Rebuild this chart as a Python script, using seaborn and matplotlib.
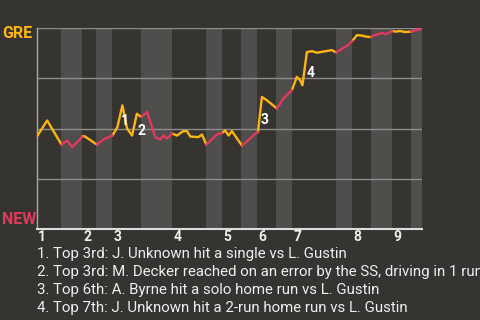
import matplotlib
matplotlib.use("Agg")
import matplotlib.pyplot as plt
import matplotlib.transforms as mtransforms
import seaborn as sns
import pandas as pd
import numpy as np

# ---- data ----
# game progress (x) and win probability for GRE (p)
prog = [0, 10.7, 25, 30.7, 35.7, 40.5, 45.7, 48, 60.5, 67, 76, 81, 86, 90.7, 95.7,
        100.5, 105, 110.7, 119, 124, 127, 130.7, 135.7, 140.7, 147, 150.7, 154, 162,
        165.7, 170, 180.7, 185.7, 189, 192.3, 195.7, 205.7, 219, 221.7, 225.7, 230.7,
        240.7, 247.3, 255.7, 260.7, 264, 266.3, 270.7, 276, 280.7, 295.7, 300, 307,
        312, 316, 321, 326, 330, 335, 338, 345.7, 350, 352.3, 356, 360, 364, 369,
        375, 380.7, 386]
win_prob = [0.457, 0.54, 0.42, 0.44, 0.407, 0.43, 0.46, 0.462, 0.42, 0.445, 0.465,
            0.507, 0.615, 0.5, 0.465, 0.573, 0.557, 0.582, 0.457, 0.445, 0.465, 0.45,
            0.475, 0.465, 0.487, 0.487, 0.46, 0.457, 0.47, 0.42, 0.47, 0.477, 0.49,
            0.465, 0.487, 0.415, 0.473, 0.482, 0.657, 0.64, 0.6, 0.65, 0.69, 0.757,
            0.74, 0.715, 0.88, 0.885, 0.877, 0.89, 0.878, 0.9, 0.915, 0.935, 0.965,
            0.962, 0.957, 0.955, 0.963, 0.975, 0.97, 0.975, 0.985, 0.982, 0.985,
            0.98, 0.982, 0.99, 0.995]
# start of each half inning (top 1, bottom 1, top 2, ...) and game end
half_starts = [0, 25, 46, 60, 76, 105, 136, 170, 186, 205, 221, 240, 256, 300,
               316, 335, 356, 375]
game_end = 386
inning_labels = ["1", "2", "3", "4", "5", "6", "7", "8", "9"]
event_labels = ["1", "2", "3", "4"]
event_x = [88.5, 105, 228, 274]
event_p = [0.535, 0.49, 0.54, 0.775]
notes = [
    "1. Top 3rd: J. Unknown hit a single vs L. Gustin",
    "2. Top 3rd: M. Decker reached on an error by the SS, driving in 1 run",
    "3. Top 6th: A. Byrne hit a solo home run vs L. Gustin",
    "4. Top 7th: J. Unknown hit a 2-run home run vs L. Gustin",
]
away_team, home_team = "GRE", "NEW"

# ---- style ----
BG = "#363430"
BAND = "#4f4e4c"
ORANGE = "#FDB515"
RED = "#E23A5E"
TXT = "#eeeeee"

sns.set_style("dark")
plt.rcParams["font.family"] = ["Roboto", "DejaVu Sans"]

fig = plt.figure(figsize=(4.8, 3.2), dpi=100, facecolor=BG)
ax = fig.add_axes([36.5 / 480, 1 - 229 / 320, (422 - 36.5) / 480, (229 - 28) / 320])
ax.set_facecolor(BG)

# half-inning bands (bottom halves shaded)
bounds = half_starts + [game_end]
for i in range(len(half_starts)):
    if i % 2 == 1:
        ax.axvspan(bounds[i], bounds[i + 1], color=BAND, lw=0, zorder=0)

for g in [0.25, 0.5, 0.75, 1.0]:
    ax.axhline(g, color="#8e8d8b", lw=1, zorder=1)

# build colored segments: orange when GRE batting (top), red when NEW batting (bottom)
def half_idx(x):
    idx = 0
    for i, s in enumerate(half_starts):
        if x >= s:
            idx = i
    return idx

rows = []
seg = 0
prev_team = None
for i in range(len(prog) - 1):
    mid = (prog[i] + prog[i + 1]) / 2
    team = away_team if half_idx(mid) % 2 == 0 else home_team
    if team != prev_team:
        seg += 1
        rows.append(dict(x=prog[i], p=win_prob[i], team=team, seg=seg))
        prev_team = team
    rows.append(dict(x=prog[i + 1], p=win_prob[i + 1], team=team, seg=seg))
df = pd.DataFrame(rows)

sns.lineplot(data=df, x="x", y="p", hue="team", units="seg", estimator=None,
             palette={away_team: ORANGE, home_team: RED}, lw=1.7, sort=False,
             legend=False, ax=ax, zorder=3)

for lab, ex, ep in zip(event_labels, event_x, event_p):
    ax.text(ex, ep, lab, color="white", fontsize=10, fontweight="bold",
            ha="center", va="center", zorder=4)

ax.set_xlim(0, game_end)
ax.set_ylim(0, 1)
ax.set_xticks([])
ax.set_yticks([])
ax.set_xlabel("")
ax.set_ylabel("")
for s in ["top", "right"]:
    ax.spines[s].set_visible(False)
ax.spines["left"].set_color("#a9a8a6")
ax.spines["left"].set_linewidth(1)
ax.spines["bottom"].set_color("#dcdcdc")
ax.spines["bottom"].set_linewidth(1.5)

trans = mtransforms.blended_transform_factory(ax.transData, ax.transAxes)
top_starts = half_starts[0::2]
for lab, xs in zip(inning_labels, top_starts):
    ax.text(xs + 1, -0.042, lab, transform=trans, color=TXT, fontsize=10,
            fontweight="bold", ha="left", va="center")

fig.text(2 / 480, 1 - 34 / 320, away_team, color=ORANGE, fontsize=11.5,
         fontweight="bold", ha="left", va="center")
fig.text(2 / 480, 1 - 219.5 / 320, home_team, color=RED, fontsize=11.5,
         fontweight="bold", ha="left", va="center")

for k, line in enumerate(notes):
    fig.text(37 / 480, 1 - (254 + 18 * k) / 320, line, color=TXT, fontsize=10.8,
             ha="left", va="center")

fig.savefig("out.png", dpi=100, facecolor=BG)
